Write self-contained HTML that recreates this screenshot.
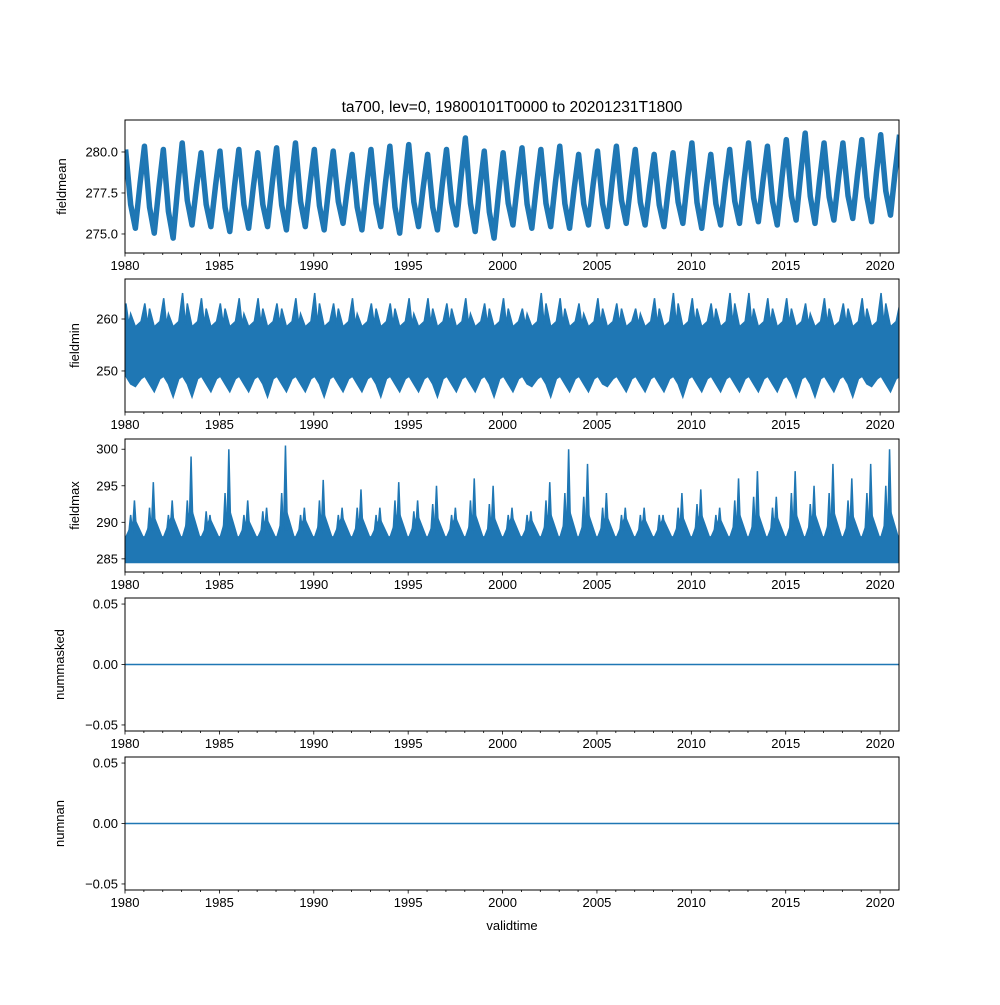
<!DOCTYPE html>
<html><head><meta charset="utf-8"><style>
body{margin:0;background:#fff;}
svg text{font-family:"Liberation Sans","DejaVu Sans",sans-serif;font-size:13px;fill:#000;}
</style></head><body>
<svg id="fig" width="1000" height="1000" xmlns="http://www.w3.org/2000/svg"></svg>
<script>
const years=[1980,1981,1982,1983,1984,1985,1986,1987,1988,1989,1990,1991,1992,1993,1994,1995,1996,1997,1998,1999,2000,2001,2002,2003,2004,2005,2006,2007,2008,2009,2010,2011,2012,2013,2014,2015,2016,2017,2018,2019,2020];
const meanPeak=[280.6,280.8,280.6,281.0,280.4,280.5,280.6,280.4,280.7,281.0,280.6,280.5,280.3,280.6,280.8,280.9,280.3,280.6,281.3,280.5,280.4,280.7,280.6,280.8,280.3,280.5,280.8,280.6,280.3,280.4,281.0,280.3,280.6,281.0,280.8,281.2,281.6,281.0,281.0,281.2,281.5];
const meanTrough=[274.9,274.6,274.3,275.1,275.0,274.7,274.9,275.0,274.8,275.0,274.8,275.2,274.8,275.0,274.6,275.0,274.8,275.1,274.7,274.3,275.1,274.9,275.0,274.9,275.1,275.0,275.2,275.1,275.0,275.2,274.9,275.1,275.2,275.3,275.1,275.4,275.2,275.4,275.5,275.3,275.7];
const minHigh=[263,263,264,265,264,263,264,264,263,264,265,263,264,263,263,264,264,263,264,263,264,262,265,264,263,264,263,262,264,265,264,263,265,265,264,264,263,264,263,264,265];
const minHigh2=[261,262,261,263,262,262,261,262,262,261,263,262,261,262,262,261,262,262,261,262,262,261,263,262,261,262,262,261,262,263,262,262,263,262,262,262,261,262,262,262,263];
const minLow=[247,246,245,245,246,246,246,245,246,246,245,246,246,245,246,246,245,246,246,245,246,247,245,246,246,247,246,246,246,245,246,246,246,246,246,245,245,246,245,247,246];
const maxSpike=[293,295.5,293,299,291,300,293,292,300.5,292,295.8,292,294.5,292,295.5,293,295,292,296,295,292,291.5,295.5,300,298,294,292,292,291,294,294.5,292,296,297,293.5,297,295,298,296,298,300];
const maxSpike2=[291,292,291,293,291.5,294,291,291.5,294,291,293,291,292,291,293,291.5,292.5,291,293,292.5,291,291,293,294,293.5,292,291,291,291,292,292.5,291,293,293.5,292,294,292.5,294,293,294,295];
const maxBase=[290.5,291,291,292,290.5,292,290.5,290.5,292,290.6,291.5,290.8,291,290.5,291.5,291,291,290.7,291.5,291,290.8,290.5,291.5,292,291.5,291,290.8,290.6,290.5,291,291.3,290.6,291.5,291.5,291,291.5,291.5,291.8,291.3,291.5,292];
const xTicks=[1980,1985,1990,1995,2000,2005,2010,2015,2020];
const panels=[
 {name:'fieldmean',top:120,bot:253,ymin:273.84,ymax:281.95,ticks:[275.0,277.5,280.0],dec:1},
 {name:'fieldmin',top:279,bot:412,ymin:242.1,ymax:267.7,ticks:[250,260],dec:0},
 {name:'fieldmax',top:439,bot:572,ymin:283.2,ymax:301.4,ticks:[285,290,295,300],dec:0},
 {name:'nummasked',top:598,bot:731,ymin:-0.055,ymax:0.055,ticks:[-0.05,0.00,0.05],dec:2},
 {name:'numnan',top:757,bot:890,ymin:-0.055,ymax:0.055,ticks:[-0.05,0.00,0.05],dec:2}
];
const L=125,R=899,X0=1980,X1=2021;
const svg=document.getElementById('fig');
const NS='http://www.w3.org/2000/svg';
function xs(t){return L+(t-X0)/(X1-X0)*(R-L);}
function mk(tag,attrs,parent){const e=document.createElementNS(NS,tag);for(const k in attrs)e.setAttribute(k,attrs[k]);(parent||svg).appendChild(e);return e;}
const C='#1f77b4';
panels.forEach((p,pi)=>{
 const ys=v=>p.bot-(v-p.ymin)/(p.ymax-p.ymin)*(p.bot-p.top);
 const g=mk('g',{});
 
 
 const clipId='clip'+pi;
 const cp=mk('clipPath',{id:clipId},g);mk('rect',{x:L,y:p.top,width:R-L,height:p.bot-p.top},cp);
 const dg=mk('g',{'clip-path':'url(#'+clipId+')'},g);
 if(pi===0){
  let d='';
  years.forEach((y,i)=>{
   const pk=meanPeak[i]-0.45, tr=meanTrough[i]+0.45, nx=i+1<years.length?meanPeak[i+1]-0.45:pk;
   d+=(i?'L':'M')+xs(y+0.03)+','+ys(pk)+'L'+xs(y+0.3)+','+ys(tr+(pk-tr)*0.3)+'L'+xs(y+0.55)+','+ys(tr)+'L'+xs(y+0.8)+','+ys(tr+(nx-tr)*0.55);});
  d+='L'+xs(2021.03)+','+ys(meanPeak[meanPeak.length-1]-0.45);
  const pth=mk('path',{d:d,fill:'none',stroke:C,'stroke-width':5.5,'stroke-linejoin':'round'},dg);
  
  
 } else if(pi===1){
  let up='',lo='';
  years.forEach((y,i)=>{up+=(i?'L':'M')+xs(y+0.05)+','+ys(minHigh[i])+'L'+xs(y+0.2)+','+ys(259)+'L'+xs(y+0.3)+','+ys(minHigh2[i])+'L'+xs(y+0.55)+','+ys(258.5)+'L'+xs(y+0.85)+','+ys(259.5);});
  up+='L'+xs(2021.05)+','+ys(263);
  lo+='L'+xs(2021.05)+','+ys(249);
  for(let i=years.length-1;i>=0;i--){lo+='L'+xs(years[i]+0.85)+','+ys(248.5)+'L'+xs(years[i]+0.55)+','+ys(minLow[i])+'L'+xs(years[i]+0.3)+','+ys(247.5)+'L'+xs(years[i]+0.05)+','+ys(249);}
  const pth=mk('path',{d:up+lo+'Z',fill:C,stroke:C,'stroke-width':1.5},dg);
  
  
 } else if(pi===2){
  let up='';
  years.forEach((y,i)=>{up+=(i?'L':'M')+xs(y+0.05)+','+ys(288)+'L'+xs(y+0.5)+','+ys(maxBase[i])+'L'+xs(y+0.95)+','+ys(288);});
  up+='L'+xs(2021)+','+ys(288)+'L'+xs(2021)+','+ys(284.5)+'L'+xs(1980)+','+ys(284.5)+'Z';
  const pth=mk('path',{d:up,fill:C,stroke:C,'stroke-width':1.5},dg);
  
  
  years.forEach((y,i)=>{
   const s=mk('path',{d:'M'+xs(y+0.4)+','+ys(289)+'L'+xs(y+0.5)+','+ys(maxSpike[i])+'L'+xs(y+0.6)+','+ys(289)+'Z',fill:C,stroke:C,'stroke-width':1.5},dg);
   
   
   const s2=mk('path',{d:'M'+xs(y+0.2)+','+ys(288.5)+'L'+xs(y+0.3)+','+ys(maxSpike2[i])+'L'+xs(y+0.4)+','+ys(288.5)+'Z',fill:C,stroke:C,'stroke-width':1.5},dg);
   
   
  });
 } else {
  const ln=mk('line',{x1:L,x2:R,y1:ys(0),y2:ys(0),stroke:C,'stroke-width':1.5},dg);
  
  
 }
 const fr=mk('rect',{x:L,y:p.top,width:R-L,height:p.bot-p.top,fill:'none',stroke:'#000','stroke-width':1},g);
 
 
 for(let y=1980;y<=2020;y++){mk('line',{x1:xs(y),x2:xs(y),y1:p.bot,y2:p.bot+(y%5===0?3.5:2),stroke:'#000','stroke-width':0.8},g);}
 xTicks.forEach(t=>{const tx=mk('text',{x:xs(t),y:p.bot+17,'text-anchor':'middle'},g);tx.textContent=t;
  
  });
 p.ticks.forEach(t=>{const yy=ys(t);mk('line',{x1:L-3.5,x2:L,y1:yy,y2:yy,stroke:'#000','stroke-width':0.8},g);
  const tx=mk('text',{x:L-7,y:yy+4.5,'text-anchor':'end'},g);tx.textContent=t.toFixed(p.dec).replace('-','\u2212');
  
  });
 const yl=mk('text',{x:0,y:0,'text-anchor':'middle',transform:'translate('+(pi===0?66:(pi<3?79:64))+','+((p.top+p.bot)/2)+') rotate(-90)'},g);
 yl.textContent=p.name;
 
 
});
const title=mk('text',{x:512,y:112,'text-anchor':'middle'});
title.textContent='ta700, lev=0, 19800101T0000 to 20201231T1800';
title.setAttribute('style','font-size:15.5px');


const xl=mk('text',{x:512,y:930,'text-anchor':'middle'});
xl.textContent='validtime';


</script>
</body></html>
